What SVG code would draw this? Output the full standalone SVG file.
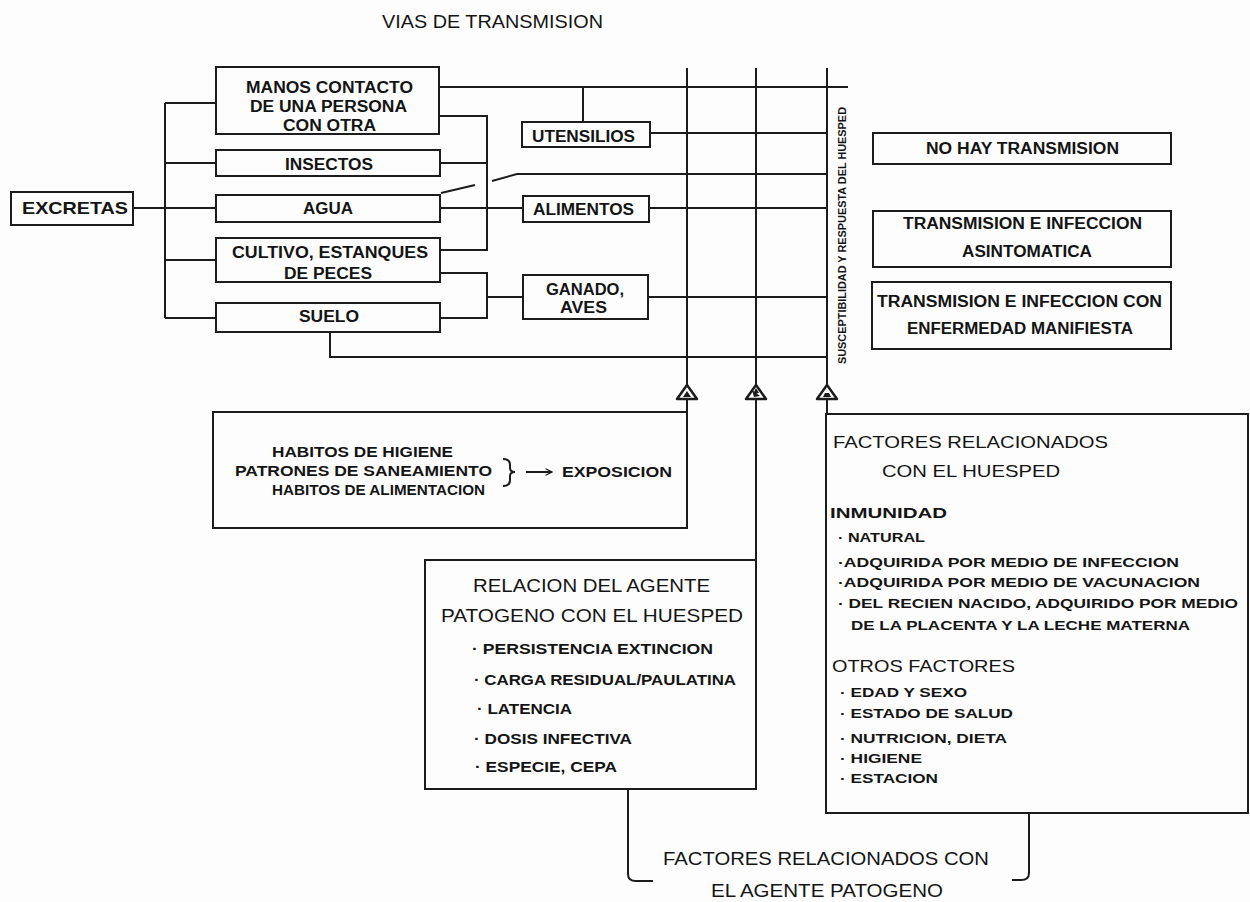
<svg xmlns="http://www.w3.org/2000/svg" width="1250" height="902" viewBox="0 0 1250 902">
<style>
.bg{fill:#fdfdfd}
.bx{fill:none;stroke:#1c1c1c;stroke-width:2}
.ln{fill:none;stroke:#1c1c1c;stroke-width:2}
.tri{fill:#fdfdfd;stroke:#1c1c1c;stroke-width:2.5;stroke-linejoin:round}
.mk{fill:#1c1c1c}
text{font-family:"Liberation Sans",Arial,Helvetica,sans-serif;fill:#141414}
.b{font-weight:bold}
</style>
<defs>
<marker id="arr" viewBox="0 0 10 10" refX="9" refY="5" markerWidth="8" markerHeight="8" orient="auto" markerUnits="userSpaceOnUse">
<path d="M1,1 L9,5 L1,9" fill="none" stroke="#1c1c1c" stroke-width="1.6"/>
</marker>
</defs>
<rect class="bg" x="0" y="0" width="1250" height="902"/>

<text id="title" x="382" y="28" font-size="18" textLength="221" lengthAdjust="spacingAndGlyphs">VIAS DE TRANSMISION</text>

<g id="connectors">
  <!-- left bus -->
  <path class="ln" d="M165,103 V318"/>
  <path class="ln" d="M165,103 H216 M165,163 H216 M165,208 H216 M165,260 H216 M165,318 H216"/>
  <path class="ln" d="M133,208 H165"/>
  <!-- right bus 1 -->
  <path class="ln" d="M439,116 H487 V250 H440 M440,163 H487"/>
  <!-- right bus 2 -->
  <path class="ln" d="M440,273 H487 V318 H440 M487,297 H523"/>
  <!-- agua to alimentos -->
  <path class="ln" d="M440,208 H523"/>
  <!-- agua crossover -->
  <path class="ln" d="M441,193 L475,185"/>
  <path class="ln" d="M492,181 L517,174 H827"/>
  <!-- top line from manos -->
  <path class="ln" d="M439,87 H848"/>
  <path class="ln" d="M583,87 V122"/>
  <!-- to the vertical lines -->
  <path class="ln" d="M650,133 H827"/>
  <path class="ln" d="M649,208 H827"/>
  <path class="ln" d="M648,297 H827"/>
  <path class="ln" d="M330,332 V357 H827"/>
  <!-- vertical lines -->
  <path class="ln" d="M687,68 V412"/>
  <path class="ln" d="M756,68 V560"/>
  <path class="ln" d="M827,68 V414"/>
  <!-- bottom bracket -->
  <path class="ln" d="M628,789 V874 Q628,881 636,881 H653"/>
  <path class="ln" d="M1029,813 V873 Q1029,880 1021,880 H1012"/>
  <!-- triangles -->
  <path class="tri" d="M677,399 L687,385 L697,399 Z"/>
  <path class="tri" d="M746,399 L756,385 L766,399 Z"/>
  <path class="tri" d="M817,399 L827,385 L837,399 Z"/>
  <path class="mk" d="M683,397 L691,397 L687,391 Z"/>
  <path class="mk" d="M752,390 L760,396 L754,397 Z M756,388 L759,393 L753,394 Z"/>
  <path class="mk" d="M823,397 L831,397 L829,393 L825,393 Z"/>
</g>

<g id="excretas">
  <rect class="bx" x="11" y="192" width="122" height="33"/>
  <text class="b" x="22" y="214" font-size="17" textLength="106" lengthAdjust="spacingAndGlyphs">EXCRETAS</text>
</g>

<g id="manos">
  <rect class="bx" x="216" y="67" width="223" height="67"/>
  <text class="b" x="246" y="93" font-size="16" textLength="167" lengthAdjust="spacingAndGlyphs">MANOS CONTACTO</text>
  <text class="b" x="250" y="112" font-size="16" textLength="157" lengthAdjust="spacingAndGlyphs">DE UNA PERSONA</text>
  <text class="b" x="283" y="131" font-size="16" textLength="93" lengthAdjust="spacingAndGlyphs">CON OTRA</text>
</g>

<g id="insectos">
  <rect class="bx" x="216" y="150" width="224" height="26"/>
  <text class="b" x="285" y="170" font-size="16" textLength="88" lengthAdjust="spacingAndGlyphs">INSECTOS</text>
</g>

<g id="agua">
  <rect class="bx" x="216" y="195" width="224" height="27"/>
  <text class="b" x="303" y="214" font-size="16" textLength="50" lengthAdjust="spacingAndGlyphs">AGUA</text>
</g>

<g id="cultivo">
  <rect class="bx" x="216" y="238" width="224" height="44"/>
  <text class="b" x="232" y="258" font-size="16" textLength="196" lengthAdjust="spacingAndGlyphs">CULTIVO, ESTANQUES</text>
  <text class="b" x="284" y="279" font-size="16" textLength="88" lengthAdjust="spacingAndGlyphs">DE PECES</text>
</g>

<g id="suelo">
  <rect class="bx" x="216" y="303" width="224" height="29"/>
  <text class="b" x="299" y="322" font-size="16" textLength="60" lengthAdjust="spacingAndGlyphs">SUELO</text>
</g>

<g id="utensilios">
  <rect class="bx" x="522" y="122" width="128" height="25"/>
  <text class="b" x="532" y="142" font-size="16" textLength="103" lengthAdjust="spacingAndGlyphs">UTENSILIOS</text>
</g>

<g id="alimentos">
  <rect class="bx" x="523" y="196" width="126" height="26"/>
  <text class="b" x="533" y="215" font-size="16" textLength="101" lengthAdjust="spacingAndGlyphs">ALIMENTOS</text>
</g>

<g id="ganado">
  <rect class="bx" x="523" y="275" width="125" height="44"/>
  <text class="b" x="546" y="295" font-size="16" textLength="78" lengthAdjust="spacingAndGlyphs">GANADO,</text>
  <text class="b" x="560" y="313" font-size="16" textLength="47" lengthAdjust="spacingAndGlyphs">AVES</text>
</g>

<g id="susceptibilidad">
  <text class="b" transform="translate(846,364) rotate(-90)" x="0" y="0" font-size="10" textLength="257" lengthAdjust="spacingAndGlyphs">SUSCEPTIBILIDAD Y RESPUESTA DEL HUESPED</text>
</g>

<g id="no-transmision">
  <rect class="bx" x="873" y="133" width="298" height="31"/>
  <text class="b" x="926" y="154" font-size="16" textLength="193" lengthAdjust="spacingAndGlyphs">NO HAY TRANSMISION</text>
</g>

<g id="asintomatica">
  <rect class="bx" x="873" y="211" width="298" height="56"/>
  <text class="b" x="903" y="229" font-size="16" textLength="239" lengthAdjust="spacingAndGlyphs">TRANSMISION E INFECCION</text>
  <text class="b" x="962" y="257" font-size="16" textLength="130" lengthAdjust="spacingAndGlyphs">ASINTOMATICA</text>
</g>

<g id="manifiesta">
  <rect class="bx" x="872" y="282" width="299" height="67"/>
  <text class="b" x="877" y="307" font-size="16" textLength="285" lengthAdjust="spacingAndGlyphs">TRANSMISION E INFECCION CON</text>
  <text class="b" x="907" y="334" font-size="16" textLength="226" lengthAdjust="spacingAndGlyphs">ENFERMEDAD MANIFIESTA</text>
</g>

<g id="habitos">
  <rect class="bx" x="213" y="412" width="474" height="116"/>
  <text class="b" x="272" y="457" font-size="14" textLength="181" lengthAdjust="spacingAndGlyphs">HABITOS DE HIGIENE</text>
  <text class="b" x="235" y="476" font-size="14" textLength="257" lengthAdjust="spacingAndGlyphs">PATRONES DE SANEAMIENTO</text>
  <text class="b" x="272" y="495" font-size="14" textLength="213" lengthAdjust="spacingAndGlyphs">HABITOS DE ALIMENTACION</text>
  <path class="ln" d="M503,459 Q510,459 510,465 V468 Q510,472 515,472 Q510,472 510,476 V480 Q510,486 503,486" stroke-width="2.2"/>
  <path class="ln" d="M526,472 H552" marker-end="url(#arr)" stroke-width="1.6"/>
  <text class="b" x="562" y="477" font-size="14" textLength="110" lengthAdjust="spacingAndGlyphs">EXPOSICION</text>
</g>

<g id="relacion">
  <rect class="bx" x="425" y="560" width="331" height="229"/>
  <text x="473" y="592" font-size="18" textLength="237" lengthAdjust="spacingAndGlyphs">RELACION DEL AGENTE</text>
  <text x="441" y="622" font-size="18" textLength="302" lengthAdjust="spacingAndGlyphs">PATOGENO CON EL HUESPED</text>
  <text class="b" x="472" y="654" font-size="15" textLength="241" lengthAdjust="spacingAndGlyphs">· PERSISTENCIA EXTINCION</text>
  <text class="b" x="474" y="685" font-size="15" textLength="262" lengthAdjust="spacingAndGlyphs">· CARGA RESIDUAL/PAULATINA</text>
  <text class="b" x="477" y="714" font-size="15" textLength="95" lengthAdjust="spacingAndGlyphs">· LATENCIA</text>
  <text class="b" x="474" y="744" font-size="15" textLength="158" lengthAdjust="spacingAndGlyphs">· DOSIS INFECTIVA</text>
  <text class="b" x="475" y="772" font-size="15" textLength="142" lengthAdjust="spacingAndGlyphs">· ESPECIE, CEPA</text>
</g>

<g id="factores-huesped">
  <rect class="bx" x="826" y="414" width="422" height="399"/>
  <text x="833" y="448" font-size="17" textLength="275" lengthAdjust="spacingAndGlyphs">FACTORES RELACIONADOS</text>
  <text x="882" y="477" font-size="17" textLength="178" lengthAdjust="spacingAndGlyphs">CON EL HUESPED</text>
  <text class="b" x="830" y="518" font-size="15" textLength="117" lengthAdjust="spacingAndGlyphs">INMUNIDAD</text>
  <text class="b" x="838" y="542" font-size="13" textLength="87" lengthAdjust="spacingAndGlyphs">· NATURAL</text>
  <text class="b" x="838" y="567" font-size="13" textLength="341" lengthAdjust="spacingAndGlyphs">·ADQUIRIDA POR MEDIO DE INFECCION</text>
  <text class="b" x="838" y="587" font-size="13" textLength="362" lengthAdjust="spacingAndGlyphs">·ADQUIRIDA POR MEDIO DE VACUNACION</text>
  <text class="b" x="838" y="608" font-size="13" textLength="400" lengthAdjust="spacingAndGlyphs">· DEL RECIEN NACIDO, ADQUIRIDO POR MEDIO</text>
  <text class="b" x="851" y="630" font-size="13" textLength="339" lengthAdjust="spacingAndGlyphs">DE LA PLACENTA Y LA LECHE MATERNA</text>
  <text x="832" y="672" font-size="17" textLength="183" lengthAdjust="spacingAndGlyphs">OTROS FACTORES</text>
  <text class="b" x="840" y="697" font-size="13" textLength="127" lengthAdjust="spacingAndGlyphs">· EDAD Y SEXO</text>
  <text class="b" x="840" y="718" font-size="13" textLength="173" lengthAdjust="spacingAndGlyphs">· ESTADO DE SALUD</text>
  <text class="b" x="840" y="743" font-size="13" textLength="167" lengthAdjust="spacingAndGlyphs">· NUTRICION, DIETA</text>
  <text class="b" x="840" y="763" font-size="13" textLength="82" lengthAdjust="spacingAndGlyphs">· HIGIENE</text>
  <text class="b" x="840" y="783" font-size="13" textLength="98" lengthAdjust="spacingAndGlyphs">· ESTACION</text>
</g>

<g id="factores-agente">
  <text x="663" y="865" font-size="18" textLength="326" lengthAdjust="spacingAndGlyphs">FACTORES RELACIONADOS CON</text>
  <text x="711" y="897" font-size="18" textLength="232" lengthAdjust="spacingAndGlyphs">EL AGENTE PATOGENO</text>
</g>
</svg>
